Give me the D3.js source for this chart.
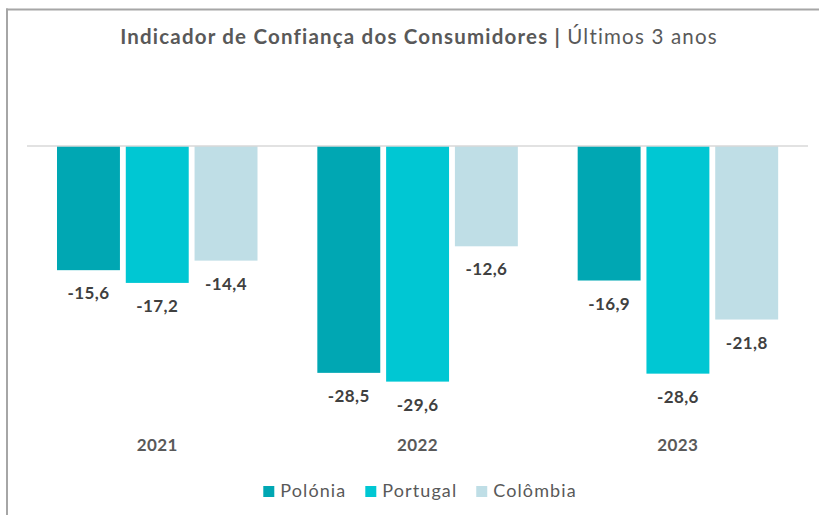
<!DOCTYPE html>
<html><head><meta charset="utf-8">
<script src="https://cdn.jsdelivr.net/npm/d3@7"></script>
<style>html,body{margin:0;padding:0;background:#fff;}svg{display:block;}</style>
</head><body>
<svg id="c" width="819" height="515"></svg>
<script>
const years = ["2021", "2022", "2023"];
const series = ["Polónia", "Portugal", "Colômbia"];
const polonia = [-15.6, -28.5, -16.9];
const portugal = [-17.2, -29.6, -28.6];
const colombia = [-14.4, -12.6, -21.8];
const colors = ["#00A7B3", "#00C7D3", "#BFDEE6"];
const titleBold = "Indicador de Confiança dos Consumidores | ";
const titleLight = "Últimos 3 anos";

const values = [polonia, portugal, colombia];
const data = years.map((y, i) => ({year: y, vals: series.map((s, j) => ({series: s, v: values[j][i], color: colors[j]}))}));

const FONT = "Lato, 'Open Sans', sans-serif";
const svg = d3.select("#c");

// frame
svg.append("line").attr("x1", 6).attr("x2", 819).attr("y1", 9.5).attr("y2", 9.5).attr("stroke", "#a6a6a6").attr("stroke-width", 2);
svg.append("line").attr("x1", 7).attr("x2", 7).attr("y1", 8.5).attr("y2", 515).attr("stroke", "#a6a6a6").attr("stroke-width", 2);

// title (fit to the reference width)
const title = svg.append("text").attr("x", 419).attr("y", 44).attr("text-anchor", "middle")
  .attr("font-family", FONT).attr("font-size", 20.5).attr("fill", "#595959");
title.append("tspan").attr("font-weight", 700).text(titleBold);
title.append("tspan").attr("font-weight", 400).text(titleLight);
const natural = title.node().getComputedTextLength();
const nch = (titleBold + titleLight).length;
title.attr("letter-spacing", ((598 - natural) / nch).toFixed(2));

const x0 = d3.scaleBand().domain(years).range([27, 808]).paddingInner(0).paddingOuter(0);
const x1 = d3.scaleBand().domain(series).range([30, 230.5]).paddingInner(0.085).paddingOuter(0);
const y = d3.scaleLinear().domain([0, -30]).range([146, 146 + 30 * 7.96]);

const g = svg.selectAll("g.grp").data(data).join("g").attr("class", "grp")
  .attr("transform", d => `translate(${x0(d.year)},0)`);

g.selectAll("rect").data(d => d.vals).join("rect")
  .attr("x", d => x1(d.series)).attr("width", x1.bandwidth())
  .attr("y", y(0)).attr("height", d => y(d.v) - y(0))
  .attr("fill", d => d.color);

g.selectAll("text.val").data(d => d.vals).join("text").attr("class", "val")
  .attr("x", d => x1(d.series) + x1.bandwidth() / 2)
  .attr("y", d => y(d.v) + 29)
  .attr("text-anchor", "middle").attr("font-family", FONT).attr("font-weight", 700)
  .attr("font-size", 17).attr("letter-spacing", 0.4).attr("fill", "#404040")
  .text(d => d3.format(".1f")(d.v).replace(".", ",").replace("−", "-"));

// baseline
svg.append("line").attr("x1", 27).attr("x2", 808).attr("y1", y(0)).attr("y2", y(0))
  .attr("stroke", "#d9d9d9").attr("stroke-width", 1.5);

// category axis labels
const xAxis = d3.axisBottom(x0).tickSize(0).tickPadding(0);
const ax = svg.append("g").attr("transform", "translate(0,439)").call(xAxis);
ax.select(".domain").remove();
ax.selectAll("text").attr("font-family", FONT).attr("font-weight", 700).attr("font-size", 17)
  .attr("letter-spacing", 0.4).attr("fill", "#595959");

// legend
const leg = svg.append("g");
let cx = 0;
series.forEach((s, i) => {
  const it = leg.append("g").attr("transform", `translate(${cx},0)`);
  it.append("rect").attr("x", 0).attr("y", 486).attr("width", 11).attr("height", 11).attr("fill", colors[i]);
  const t = it.append("text").attr("x", 17).attr("y", 497).attr("font-family", FONT)
    .attr("font-size", 18).attr("letter-spacing", 1.1).attr("fill", "#595959").text(s);
  cx += 17 + t.node().getComputedTextLength() + 19;
});
const lw = cx - 19;
leg.attr("transform", `translate(${420 - lw / 2},0)`);
</script>
</body></html>
